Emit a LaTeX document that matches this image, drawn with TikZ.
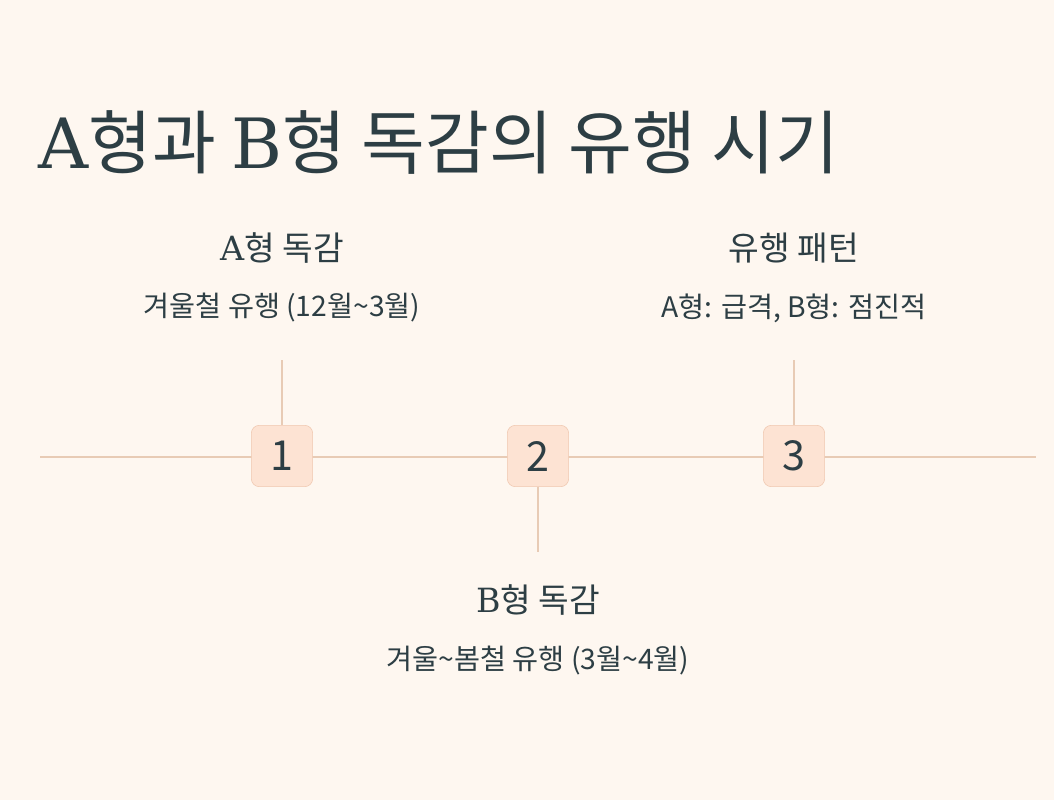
\documentclass[tikz,border=0pt]{standalone}
\usepackage{fontspec}
\setmainfont{Noto Sans CJK KR}
\newfontfamily\lat{DejaVu Serif}
\definecolor{bg}{HTML}{FEF7F0}
\definecolor{ln}{HTML}{E8CBB5}
\definecolor{bx}{HTML}{FDE3D3}
\definecolor{bxd}{HTML}{F0C8B0}
\definecolor{tx}{HTML}{2D3E44}
\begin{document}
\begin{tikzpicture}[x=0.75pt,y=-0.75pt,
  numbox/.style={draw=bxd,fill=bx,rounded corners=6pt,minimum width=46pt,minimum height=46pt,text=tx,font=\fontsize{31}{34}\selectfont,inner sep=0pt},
  head/.style={text=tx,font=\fontsize{25}{28}\selectfont,inner sep=0pt},
  sub/.style={text=tx,font=\fontsize{21.2}{24}\selectfont,inner sep=0pt},
  conn/.style={draw=ln,line width=1.8pt}]
\fill[bg] (0,0) rectangle (1054,800);
\useasboundingbox (0,0) rectangle (1054,800);
\node[anchor=base west,text=tx,font=\fontsize{52}{56}\selectfont,inner sep=0pt] (title) at (38,168) {{\lat A}형과 {\lat B}형 독감의 유행 시기};
\coordinate (L) at (40,457); \coordinate (R) at (1036,457);
\coordinate (t1) at (282,360); \coordinate (t2) at (538,552); \coordinate (t3) at (794,360);
\draw[conn] (L) -- (R);
\node[numbox] (n1) at (282,456) {1};
\node[numbox] (n2) at (538,456) {2};
\node[numbox] (n3) at (794,456) {3};
\draw[conn] (t1) -- (n1.north);
\draw[conn] (n2.south) -- (t2);
\draw[conn] (t3) -- (n3.north);
\node[head] (h1) at (282,248) {{\lat A}형 독감};
\node[sub] (s1) at (282,308) {겨울철 유행 (12월\textasciitilde{}3월)};
\node[head] (h3) at (794,248) {유행 패턴};
\node[sub] (s3) at (794,308) {A형: 급격, B형: 점진적};
\node[head] (h2) at (538,600) {{\lat B}형 독감};
\node[sub] (s2) at (538,661) {겨울\textasciitilde{}봄철 유행 (3월\textasciitilde{}4월)};
\end{tikzpicture}
\end{document}
